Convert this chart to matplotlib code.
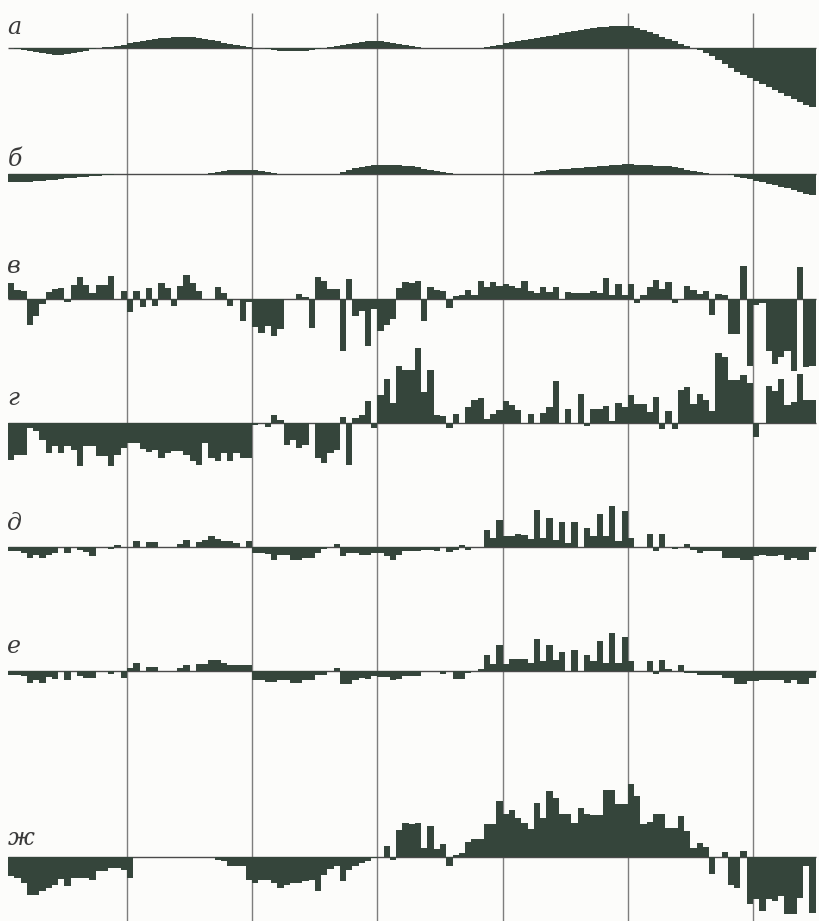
import numpy as np
import matplotlib
matplotlib.use("Agg")
import matplotlib.pyplot as plt

# ---------------- data (one bar per year) ----------------
years = list(range(1881, 2010))          # 129 yearly bars
grid_years = [1900, 1920, 1940, 1960, 1980, 2000]
panel_labels = ["а", "б", "в", "г", "д", "е", "ж"]

series_a = [
    -0.5, -1, -2, -3, -4, -5, -6, -7, -7, -6,
    -5, -4, -3, -1, -0.5, 0.5, 1, 2, 3, 5,
    6, 7, 8, 9, 10, 10, 10.5, 10.5, 10.5, 10.5,
    10, 9, 8, 7, 5, 4, 2.5, 1.5, 0.5, 0,
    -0.5, -1.5, -2.5, -3, -3.5, -3.5, -3.5, -3, -2, -1.5,
    -0.5, 0.5, 1.5, 3, 4, 5, 6, 6.5, 6.5, 6.5,
    6, 5, 4, 3, 2, 1, 0, 0, 0, 0,
    0, 0, 0, 0, 0, 0, 1, 2, 3, 4.5,
    6, 7, 8, 9, 10, 11, 12, 13, 14.5, 16,
    17, 18, 19, 20, 20.5, 21, 21.5, 22, 22, 21.5,
    20, 18, 16, 13.5, 11, 9, 6.5, 4, 1.5, 0,
    -2, -5, -8, -12, -16, -20, -24, -27, -30, -33,
    -36, -39, -42, -45, -48, -51, -54, -57, -59,
]
series_b = [
    -8, -8, -8, -8, -7.5, -7, -6.5, -6, -5, -4.5,
    -4, -3.5, -3, -2.5, -2, -1.5, -1, -0.5, -0.3, 0,
    0, 0, 0, 0, 0, 0, 0, 0, 0, 0,
    0, 0, 1, 2, 3, 3.5, 4, 4, 4, 3.5,
    2.5, 1.5, 0.5, 0, 0, 0, 0, 0, 0, 0,
    0, 0, 0, 2, 4, 5.5, 7, 8, 8.5, 9,
    9, 9, 8.5, 8, 7.5, 6.5, 5, 4, 3, 2,
    1, 0.3, 0, 0, 0, 0, 0, 0, 0, 0,
    0, 0, 0, 0, 1.5, 2.5, 3.5, 4, 4.5, 5,
    5.5, 6, 6.5, 7, 7.5, 8, 8.5, 9, 9.5, 9.5,
    9, 8.5, 8.5, 8, 8, 7.5, 7, 5.5, 4, 2.5,
    1.5, 0.5, 0, 0, -0.5, -1.5, -3, -4, -5.5, -7,
    -8.5, -10, -11.5, -13, -14.5, -16, -18, -20, -21.5,
]
series_v = [
    16, 9, 8, -26, -17, -5, 7, 10, 11, -3,
    14, 22, 14, 6, 14, 14, 23, 0, 8, -13,
    8, -8, 11, -7, 16, 11, -7, 13, 24, 16,
    8, 0, 0, 12, 6, -7, 0, -22, -3, -28,
    -34, -27, -37, -30, 0, 0, 5, 2, -29, 22,
    18, 10, 10, -52, 20, -17, -12, -47, -10, -32,
    -26, -20, 11, 17, 16, 18, -22, 12, 9, 8,
    -9, 3, 4, 9, 4, 18, 12, 17, 13, 15,
    13, 11, 18, 8, 6, 12, 7, 12, 0, 7,
    6, 6, 6, 8, 6, 21, 4, 15, 4, 15,
    -4, 4, 12, 19, 10, 17, -4, 0, 13, 9,
    5, 8, -16, 5, 4, -35, -35, 33, -67, -6,
    -4, -52, -65, -58, -52, -72, 32, -68, -67,
]
series_g = [
    -37, -32, -32, -5, -8, -17, -30, -23, -30, -23,
    -27, -43, -23, -23, -33, -33, -43, -32, -25, -20,
    -20, -26, -29, -27, -35, -30, -28, -28, -32, -38,
    -42, -20, -35, -38, -30, -38, -30, -35, -35, -2,
    0, -4, 8, 3, -22, -17, -25, -22, 0, -35,
    -40, -30, -27, 6, -42, 5, 8, 22, -5, 28,
    44, 20, 57, 53, 53, 75, 31, 53, 8, 7,
    -5, 9, 0, 16, 23, 25, 4, 9, 13, 22,
    18, 13, 0, 9, 0, 10, 16, 42, 0, 14,
    0, 29, -3, 14, 14, 17, 2, 20, 16, 28,
    19, 19, 11, 26, -6, 12, -6, 33, 36, 19,
    29, 23, 12, 70, 66, 43, 43, 48, 40, -14,
    0, 37, 32, 44, 18, 21, 49, 23, 23,
]
series_d = [
    -4, -4, -6, -11, -8, -11, -8, -6, 0, -6,
    0, -3, -5, -9, 0, 0, -2, 2, 0, 0,
    6, 0, 5, 5, 0, 0, 0, 3, 7, 0,
    5, 7, 11, 8, 6, 6, 4, 0, 6, -6,
    -6, -7, -13, -8, -8, -13, -13, -11, -11, -6,
    -2, 0, 3, -9, -6, -6, -8, -8, -6, -6,
    -9, -13, -8, -4, -4, -4, -3, -3, -4, 0,
    -5, -3, 2, -3, 0, 0, 17, 9, 27, 11,
    11, 13, 12, 8, 37, 9, 29, 7, 25, 4,
    25, 0, 19, 11, 33, 11, 41, 6, 36, 9,
    0, 0, 13, -4, 13, 0, -2, 0, 3, -3,
    -6, -4, -4, -4, -11, -11, -11, -13, -13, -9,
    -8, -9, -9, -8, -13, -11, -13, -13, -5,
]
series_e = [
    -4, -4, -5, -12, -9, -12, -6, -8, 0, -9,
    0, -5, -7, -7, 0, 0, -3, 0, -7, 3,
    8, 0, 4, 4, 0, 0, 0, 3, 6, 0,
    7, 7, 11, 11, 8, 6, 6, 6, 6, -9,
    -9, -11, -11, -9, -9, -12, -12, -9, -9, -4,
    -4, 0, 3, -13, -13, -9, -7, -8, -5, -6,
    -6, -9, -8, -5, -5, -5, 0, 0, 0, -3,
    0, -8, -8, -2, 0, 2, 16, 7, 26, 7,
    12, 12, 12, 8, 32, 10, 26, 11, 19, 0,
    21, 0, 16, 10, 30, 8, 38, 8, 34, 10,
    0, 0, 10, -3, 11, 2, 0, 6, -2, -2,
    -4, -4, -4, -4, -7, -7, -13, -13, -10, -10,
    -9, -9, -9, -9, -12, -9, -13, -13, -7,
]
series_zh = [
    -19, -21, -26, -38, -38, -34, -31, -28, -22, -29,
    -21, -21, -21, -23, -14, -14, -11, -11, -13, -21,
    0, 0, 0, 0, 0, 0, 0, 0, 0, 0,
    0, 0, 0, -3, -4, -9, -9, -9, -23, -26,
    -23, -23, -26, -31, -28, -26, -26, -24, -23, -34,
    -18, -12, -9, -24, -13, -9, -6, -4, -1, 0,
    11, -3, 27, 34, 33, 34, 9, 31, 8, 13,
    -9, 2, 4, 15, 18, 18, 33, 33, 56, 43,
    47, 39, 34, 28, 54, 39, 66, 59, 43, 43,
    34, 49, 43, 42, 42, 67, 67, 53, 53, 73,
    61, 33, 35, 43, 43, 29, 29, 41, 26, 9,
    14, 10, -17, 0, 5, -28, -31, 6, -47, -42,
    -54, -42, -44, -39, -57, -57, -41, -9, -56,
]

all_series = [series_a, series_b, series_v, series_g, series_d, series_e, series_zh]

# ---------------- layout (pixel based) ----------------
W, H = 819, 921
baselines = [48, 174, 299, 423, 547, 671, 857]
label_y = [27, 160, 266, 398, 523, 646, 838]
bar_color = "#35453b"

fig = plt.figure(figsize=(W / 100, H / 100), dpi=100)
fig.patch.set_facecolor("#fcfcfa")
ax = fig.add_axes([0, 0, 1, 1])
ax.set_facecolor("#fcfcfa")
ax.set_xlim(1879.71, 2010.54)
ax.set_ylim(H, 0)
ax.axis("off")

# vertical grid
ax.vlines(grid_years, 13, H, colors="#7d7d7d", linewidth=1.0, zorder=1)

x = np.array(years, dtype=float)
for base, vals in zip(baselines, all_series):
    v = np.array(vals, dtype=float)
    ax.hlines(base, years[0], years[-1] + 1, colors="#4a4a4a", linewidth=1.0, zorder=2)
    ax.bar(x, -v, bottom=base, width=1.0, align="edge",
           color=bar_color, linewidth=0, zorder=3)

for lab, ly in zip(panel_labels, label_y):
    ax.text(1880.9, ly, lab, fontsize=17, fontstyle="italic", family="DejaVu Serif",
            color="#3a3a3a", va="center", ha="left", zorder=4)

fig.savefig("out.png", dpi=100, facecolor=fig.get_facecolor())
